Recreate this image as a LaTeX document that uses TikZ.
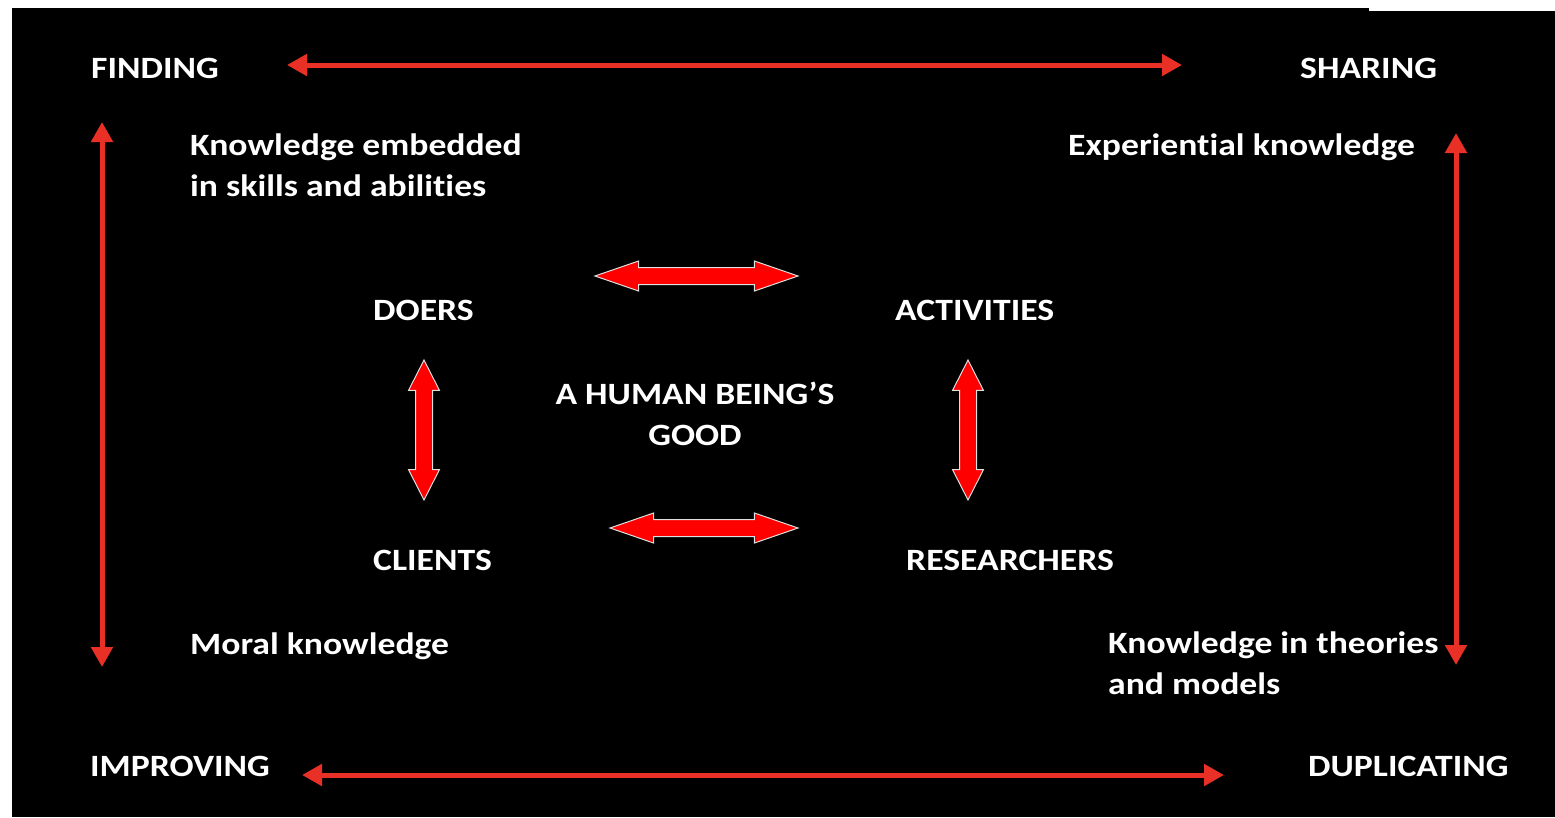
\documentclass[tikz,border=0pt]{standalone}
\usepackage{fontspec}
\setmainfont{Carlito}[FakeStretch=1.15,RawFeature={-liga;-clig;-calt}]
\usetikzlibrary{arrows.meta,shapes.arrows}
\definecolor{thinred}{RGB}{232,48,38}
\definecolor{blockred}{RGB}{255,0,0}
\tikzset{
  lbl/.style={anchor=base west,text=white,inner sep=0pt,font=\fontsize{31}{41}\selectfont\bfseries,align=left},
  thinarrow/.style={draw=thinred,line width=5pt,{Triangle[length=20pt,width=21pt]}-{Triangle[length=20pt,width=21pt]}},
  blockh/.style={double arrow,fill=blockred,draw=gray!25,line width=1pt,inner xsep=0pt,inner ysep=8pt,minimum width=29pt,double arrow head extend=6.5pt,double arrow tip angle=38},
  blockv/.style={double arrow,fill=blockred,draw=gray!25,line width=1pt,inner xsep=0pt,inner ysep=8pt,minimum width=30pt,double arrow head extend=7pt,double arrow tip angle=54,rotate=90}
}
\begin{document}
\begin{tikzpicture}[x=1pt,y=-1pt]
\useasboundingbox (0,0) rectangle (1555,817);
\fill[white] (0,0) rectangle (1555,817);
\fill[black] (12,8) rectangle (1369,817);
\fill[black] (1369,11) rectangle (1555,817);
% corner labels
\node[lbl] (finding) at (91,78) {FINDING};
\node[lbl] (sharing) at (1300,78) {SHARING};
\node[lbl] (improving) at (90,776) {IMPROVING};
\node[lbl] (duplicating) at (1308,776) {DUPLICATING};
% knowledge labels (base anchor = last line)
\node[lbl] (embedded) at (190,196) {Knowledge embedded\\in skills and abilities};
\node[lbl] (experiential) at (1068,155) {Experiential knowledge};
\node[lbl] (moral) at (190,654) {Moral knowledge};
\node[lbl] (theories) at (1108,694) {Knowledge in theories\\and models};
% inner labels
\node[lbl] (doers) at (373,320) {DOERS};
\node[lbl] (activities) at (895,320) {ACTIVITIES};
\node[lbl] (clients) at (373,570) {CLIENTS};
\node[lbl] (researchers) at (906,570) {RESEARCHERS};
\node[lbl,anchor=base,align=center] (good) at (695,445) {A HUMAN BEING’S\\GOOD};
% thin arrows
\coordinate (t1) at (287,65); \coordinate (t2) at (1182,65);
\coordinate (b1) at (302,775); \coordinate (b2) at (1224,775);
\coordinate (l1) at (102,122); \coordinate (l2) at (102,667);
\coordinate (r1) at (1456,133); \coordinate (r2) at (1456,665);
\draw[thinarrow] (t1) -- (t2);
\draw[thinarrow] (b1) -- (b2);
\draw[thinarrow] (l1) -- (l2);
\draw[thinarrow] (r1) -- (r2);
% block arrows
\node[blockh,minimum height=203pt] (topblock) at (696.5,276) {};
\node[blockh,minimum height=188pt] (botblock) at (704,528) {};
\node[blockv,minimum height=140pt] (leftblock) at (424,430) {};
\node[blockv,minimum height=140pt] (rightblock) at (968,430) {};
\end{tikzpicture}
\end{document}
